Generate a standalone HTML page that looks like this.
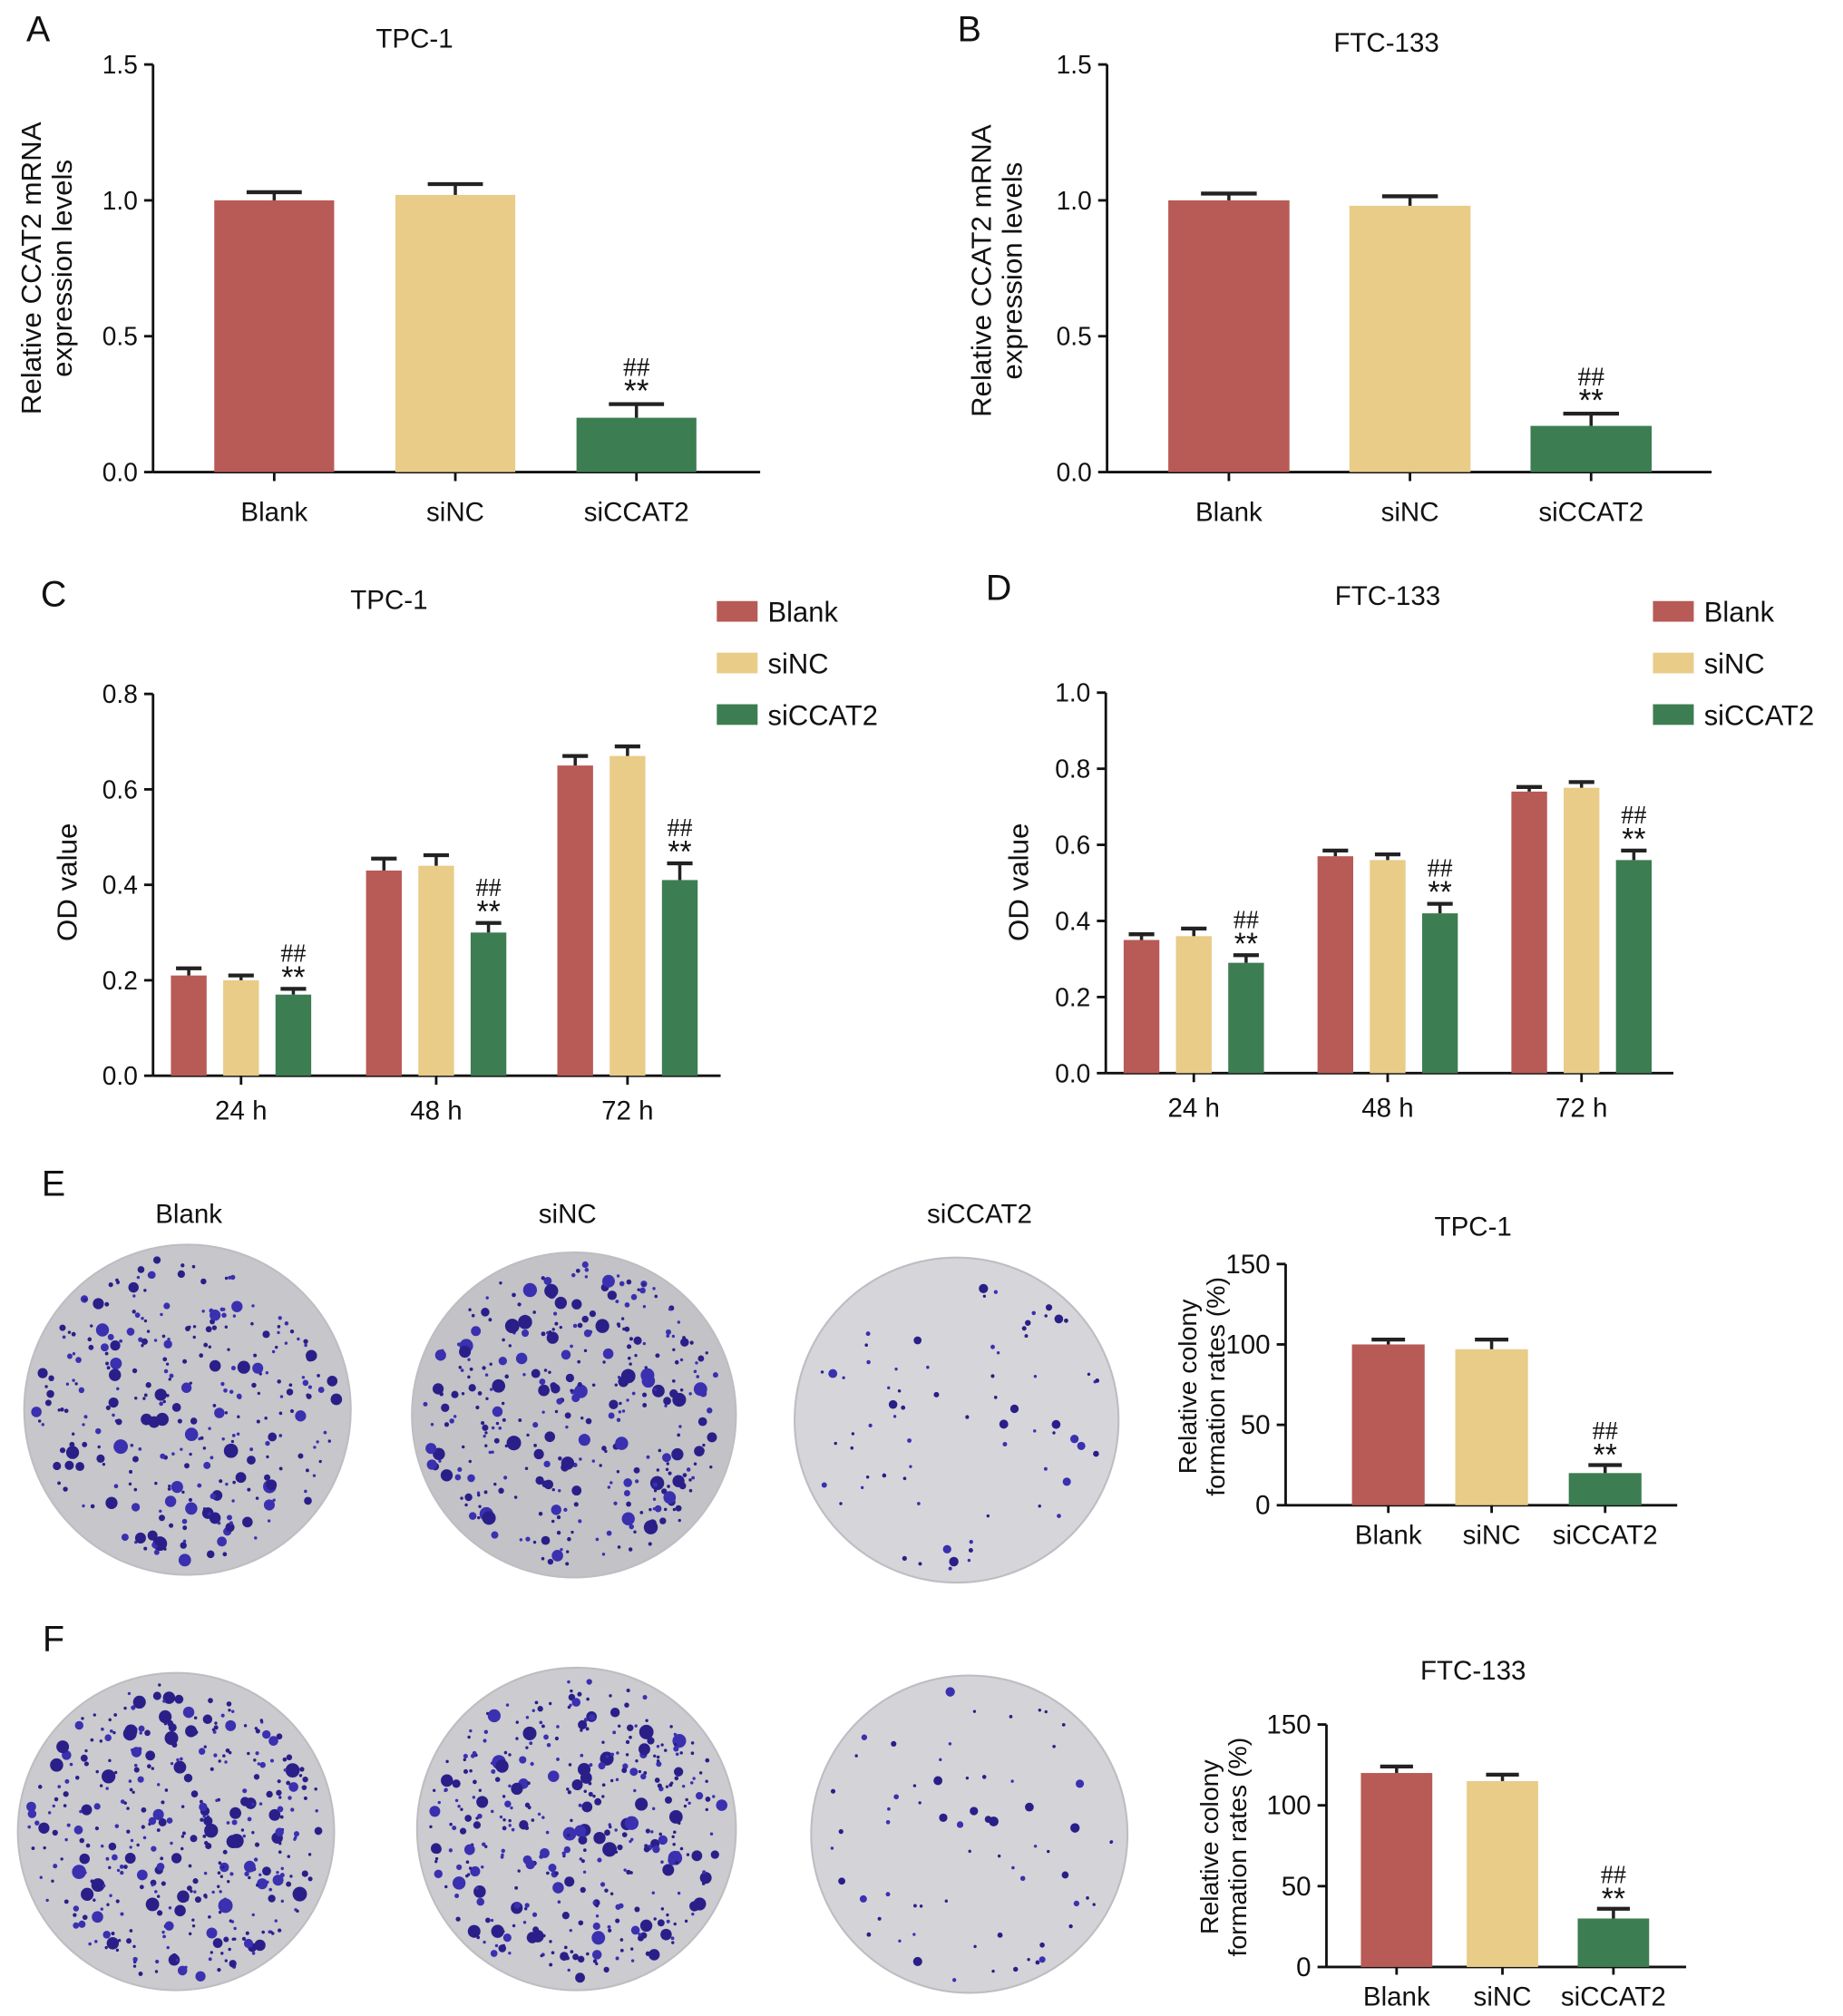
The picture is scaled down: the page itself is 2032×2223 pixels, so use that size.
<!DOCTYPE html>
<html><head><meta charset="utf-8"><style>
html,body{margin:0;padding:0;background:#fff;}
svg{display:block;font-family:"Liberation Sans",Arial,sans-serif;}
</style></head><body>
<svg id="fig" width="2032" height="2223" viewBox="0 0 1445 1563" preserveAspectRatio="none" xmlns="http://www.w3.org/2000/svg">
<g id="root"></g>
</svg>
<script>
// ---- data ----
const catsABC = ["Blank","siNC","siCCAT2"];
const aVals = [1.0, 1.02, 0.2];
const aErrs = [0.03, 0.04, 0.05];
const bVals = [1.0, 0.98, 0.17];
const bErrs = [0.025, 0.035, 0.045];
const timeCats = ["24 h","48 h","72 h"];
const cBlank = [0.21, 0.43, 0.65];
const cSiNC = [0.20, 0.44, 0.67];
const cSiCCAT2 = [0.17, 0.30, 0.41];
const cBlankErr = [0.015, 0.025, 0.02];
const cSiNCErr = [0.01, 0.022, 0.02];
const cSiCCAT2Err = [0.012, 0.02, 0.035];
const dBlank = [0.35, 0.57, 0.74];
const dSiNC = [0.36, 0.56, 0.75];
const dSiCCAT2 = [0.29, 0.42, 0.56];
const dBlankErr = [0.015, 0.015, 0.012];
const dSiNCErr = [0.02, 0.015, 0.015];
const dSiCCAT2Err = [0.02, 0.025, 0.025];
const eVals = [100, 97, 20];
const eErrs = [3, 6, 5];
const fVals = [120, 115, 30];
const fErrs = [4, 4, 6];
const ticks15 = [0, 0.5, 1.0, 1.5];
const ticks08 = [0, 0.2, 0.4, 0.6, 0.8];
const ticks10 = [0, 0.2, 0.4, 0.6, 0.8, 1.0];
const ticks150 = [0, 50, 100, 150];

const COL = ["#b85a56","#e8cc88","#3d7d52"];
const NS = "http://www.w3.org/2000/svg";
const root = document.getElementById('root');
function el(tag, attrs, parent, txt){
  const e = document.createElementNS(NS, tag);
  for (const k in attrs) e.setAttribute(k, attrs[k]);
  if (txt !== undefined) e.textContent = txt;
  (parent||root).appendChild(e);
  return e;
}
function group(name){
  const g = el('g', {});
  
  
  return g;
}
function text(g, x, y, s, size, anchor, name, extra){
  const t = el('text', Object.assign({x:x, y:y, 'font-size':size, 'text-anchor':anchor||'middle', fill:'#111'}, extra||{}), g, s);
  
  
  return t;
}
function fmt(v, dec){ return dec ? v.toFixed(dec) : String(v); }

function axes(g, cfg){
  const {x0, x1, y0, yTop, max, ticks, dec} = cfg;
  const sy = v => y0 - (v/max)*(y0-yTop);
  const ax = el('line', {x1:x0, y1:yTop, x2:x0, y2:y0, stroke:'#111', 'stroke-width':2}, g);
  
  
  const bx = el('line', {x1:x0, y1:y0, x2:x1, y2:y0, stroke:'#111', 'stroke-width':2}, g);
  
  
  ticks.forEach(t => {
    const yy = sy(t);
    el('line', {x1:x0-7, y1:yy, x2:x0, y2:yy, stroke:'#111', 'stroke-width':2}, g);
    text(g, x0-12, yy+7, fmt(t, dec), cfg.tickSize||20, 'end', 'y-tick-label');
  });
  return sy;
}
function bar(g, x, w, v, err, sy, color, name){
  const r = el('rect', {x:x, y:sy(v), width:w, height:sy(0)-sy(v), fill:color}, g);
  
  
  const cx = x + w/2, cap = Math.max(10, w*0.23);
  el('line', {x1:cx, y1:sy(v), x2:cx, y2:sy(v+err), stroke:'#222', 'stroke-width':2.5}, g);
  el('line', {x1:cx-cap, y1:sy(v+err), x2:cx+cap, y2:sy(v+err), stroke:'#222', 'stroke-width':3}, g);
}
function sig(g, cx, ytop, size){
  text(g, cx, ytop+2, '**', size+4, 'middle', 'significance-stars');
  text(g, cx, ytop-18, '##', size, 'middle', 'significance-hash', {'font-family':'"Liberation Serif",serif'});
}

function simpleChart(name, cfg, vals, errs, cats){
  const g = group(name);
  const sy = axes(g, cfg);
  cfg.bars.forEach((bx, i) => {
    bar(g, bx, cfg.bw, vals[i], errs[i], sy, COL[i], 'bar-' + cats[i].toLowerCase());
    const cx = bx + cfg.bw/2;
    el('line', {x1:cx, y1:cfg.y0, x2:cx, y2:cfg.y0+7, stroke:'#111', 'stroke-width':2}, g);
    text(g, cx, cfg.y0 + cfg.labelDy, cats[i], cfg.labelSize||21, 'middle', 'x-tick-label');
  });
  sig(g, cfg.bars[2]+cfg.bw/2, sy(vals[2]+errs[2]) - 4, cfg.sigSize||21);
  text(g, cfg.titleX, cfg.titleY, cfg.title, 21, 'middle', 'chart-title');
  text(g, cfg.letterX, cfg.letterY, cfg.letter, 28, 'middle', 'panel-label');
  const yl = el('text', {transform:`translate(${cfg.ylX},${cfg.ylY}) rotate(-90)`, 'font-size':cfg.ylSize||22, 'text-anchor':'middle', fill:'#111'}, g);
  
  
  cfg.ylLines.forEach((s, i) => { el('tspan', {x:0, dy: i===0 ? 0 : '1.1em'}, yl, s); });
  return g;
}

simpleChart('panel-a-chart', {x0:120, x1:596, y0:366, yTop:50, max:1.5, ticks:ticks15, dec:1,
  bars:[168,310,452], bw:94, labelDy:38, title:'TPC-1', titleX:325, titleY:37, letter:'A', letterX:30, letterY:32,
  ylX:32, ylY:208, ylLines:['Relative CCAT2 mRNA','expression levels']}, aVals, aErrs, catsABC);
simpleChart('panel-b-chart', {x0:868, x1:1342, y0:366, yTop:50, max:1.5, ticks:ticks15, dec:1,
  bars:[916,1058,1200], bw:95, labelDy:38, title:'FTC-133', titleX:1087, titleY:40, letter:'B', letterX:760, letterY:32,
  ylX:777, ylY:210, ylLines:['Relative CCAT2 mRNA','expression levels']}, bVals, bErrs, catsABC);

function groupedChart(name, cfg, series, errs){
  const g = group(name);
  const sy = axes(g, cfg);
  const names = ['blank','sinc','siccat2'];
  timeCats.forEach((c, j) => {
    const gc = cfg.centers[j];
    series.forEach((s, i) => {
      const bx = gc + (i-1)*cfg.step - cfg.bw/2;
      bar(g, bx, cfg.bw, s[j], errs[i][j], sy, COL[i], 'bar-' + names[i] + '-' + c.replace(' ', ''));
    });
    el('line', {x1:gc, y1:cfg.y0, x2:gc, y2:cfg.y0+7, stroke:'#111', 'stroke-width':2}, g);
    text(g, gc, cfg.y0+34, c, 21, 'middle', 'x-tick-label');
    sig(g, gc + cfg.step, sy(series[2][j]+errs[2][j]) - 3, 20);
  });
  text(g, cfg.titleX, cfg.titleY, cfg.title, 21, 'middle', 'chart-title');
  text(g, cfg.letterX, cfg.letterY, cfg.letter, 28, 'middle', 'panel-label');
  text(g, 0, 0, 'OD value', 22, 'middle', 'y-axis-title', {transform:`translate(${cfg.ylX},${cfg.ylY}) rotate(-90)`});
  catsABC.forEach((c, i) => {
    const lg = el('g', {}, g);
    
    
    el('rect', {x:cfg.legX, y:cfg.legY + i*40 - 8, width:32, height:16, fill:COL[i]}, lg);
    text(lg, cfg.legX+40, cfg.legY + i*40 + 8, c, 22, 'start', 'legend-label');
  });
  return g;
}
groupedChart('panel-c-chart', {x0:120, x1:565, y0:834, yTop:538, max:0.8, ticks:ticks08, dec:1,
  centers:[189,342,492], step:41, bw:28, title:'TPC-1', titleX:305, titleY:472, letter:'C', letterX:42, letterY:470,
  ylX:60, ylY:684, legX:562, legY:474}, [cBlank,cSiNC,cSiCCAT2], [cBlankErr,cSiNCErr,cSiCCAT2Err]);
groupedChart('panel-d-chart', {x0:867, x1:1312, y0:832, yTop:537, max:1.0, ticks:ticks10, dec:1,
  centers:[936,1088,1240], step:41, bw:28, title:'FTC-133', titleX:1088, titleY:469, letter:'D', letterX:783, letterY:465,
  ylX:806, ylY:684, legX:1296, legY:474}, [dBlank,dSiNC,dSiCCAT2], [dBlankErr,dSiNCErr,dSiCCAT2Err]);

// ---- plates (photos, decorative) ----
let seed = 12345;
function rnd(){ seed = (seed*1103515245 + 12345) % 2147483648; return seed/2147483648; }
function plate(name, cx, cy, rx, ry, fill, n, maxR){
  const g = group(name);
  el('ellipse', {cx:cx, cy:cy, rx:rx, ry:ry, fill:fill, stroke:'#bdbdc2', 'stroke-width':1.5}, g);
  for (let k=0; k<n; k++){
    const a = rnd()*Math.PI*2, d = Math.sqrt(rnd())*0.93;
    const r = 1.2 + Math.pow(rnd(), 4)*maxR;
    el('circle', {cx:cx + Math.cos(a)*d*rx, cy:cy + Math.sin(a)*d*ry, r:r, fill: rnd()<0.6 ? '#2a1f88' : '#3a30b0'}, g);
  }
}
plate('plate-e-blank', 147, 1093, 128, 128, '#c6c6cb', 300, 4.5);
plate('plate-e-sinc', 450, 1097, 127, 126, '#c2c2c7', 340, 4.5);
plate('plate-e-siccat2', 750, 1101, 127, 126, '#d6d6da', 70, 2.5);
plate('plate-f-blank', 138, 1420, 124, 123, '#cacacf', 380, 4.5);
plate('plate-f-sinc', 452, 1418, 125, 125, '#cbcbd0', 390, 4.5);
plate('plate-f-siccat2', 760, 1422, 124, 123, '#d4d4d8', 65, 3);
const lab = group('plate-labels');
text(lab, 148, 948, 'Blank', 21, 'middle', 'plate-label-blank');
text(lab, 445, 948, 'siNC', 21, 'middle', 'plate-label-sinc');
text(lab, 768, 948, 'siCCAT2', 21, 'middle', 'plate-label-siccat2');
text(lab, 42, 927, 'E', 28, 'middle', 'panel-label');
text(lab, 42, 1280, 'F', 28, 'middle', 'panel-label');

function colonyChart(name, cfg, vals, errs){
  const g = group(name);
  const sy = axes(g, Object.assign({dec:0, tickSize:21}, cfg));
  cfg.bars.forEach((bx, i) => {
    bar(g, bx, cfg.bw, vals[i], errs[i], sy, COL[i], 'bar-' + catsABC[i].toLowerCase());
    const cx = bx + cfg.bw/2;
    el('line', {x1:cx, y1:cfg.y0, x2:cx, y2:cfg.y0+6, stroke:'#111', 'stroke-width':2}, g);
    text(g, cx, cfg.y0+30, catsABC[i], 21, 'middle', 'x-tick-label');
  });
  sig(g, cfg.bars[2]+cfg.bw/2, sy(vals[2]+errs[2]) - 2, 20);
  text(g, cfg.titleX, cfg.titleY, cfg.title, 21, 'middle', 'chart-title');
  const yl = el('text', {transform:`translate(${cfg.ylX},${cfg.ylY}) rotate(-90)`, 'font-size':20, 'text-anchor':'middle', fill:'#111'}, g);
  
  
  ['Relative colony','formation rates (%)'].forEach((s, i) => el('tspan', {x:0, dy: i===0 ? 0 : '1.1em'}, yl, s));
}
colonyChart('panel-e-chart', {x0:1008, x1:1315, y0:1167, yTop:980, max:150, ticks:ticks150,
  bars:[1060,1141,1230], bw:57, title:'TPC-1', titleX:1155, titleY:958, ylX:938, ylY:1075}, eVals, eErrs);
colonyChart('panel-f-chart', {x0:1040, x1:1322, y0:1525, yTop:1337, max:150, ticks:ticks150,
  bars:[1067,1150,1237], bw:56, title:'FTC-133', titleX:1155, titleY:1302, ylX:955, ylY:1432}, fVals, fErrs);
</script>
</body></html>
